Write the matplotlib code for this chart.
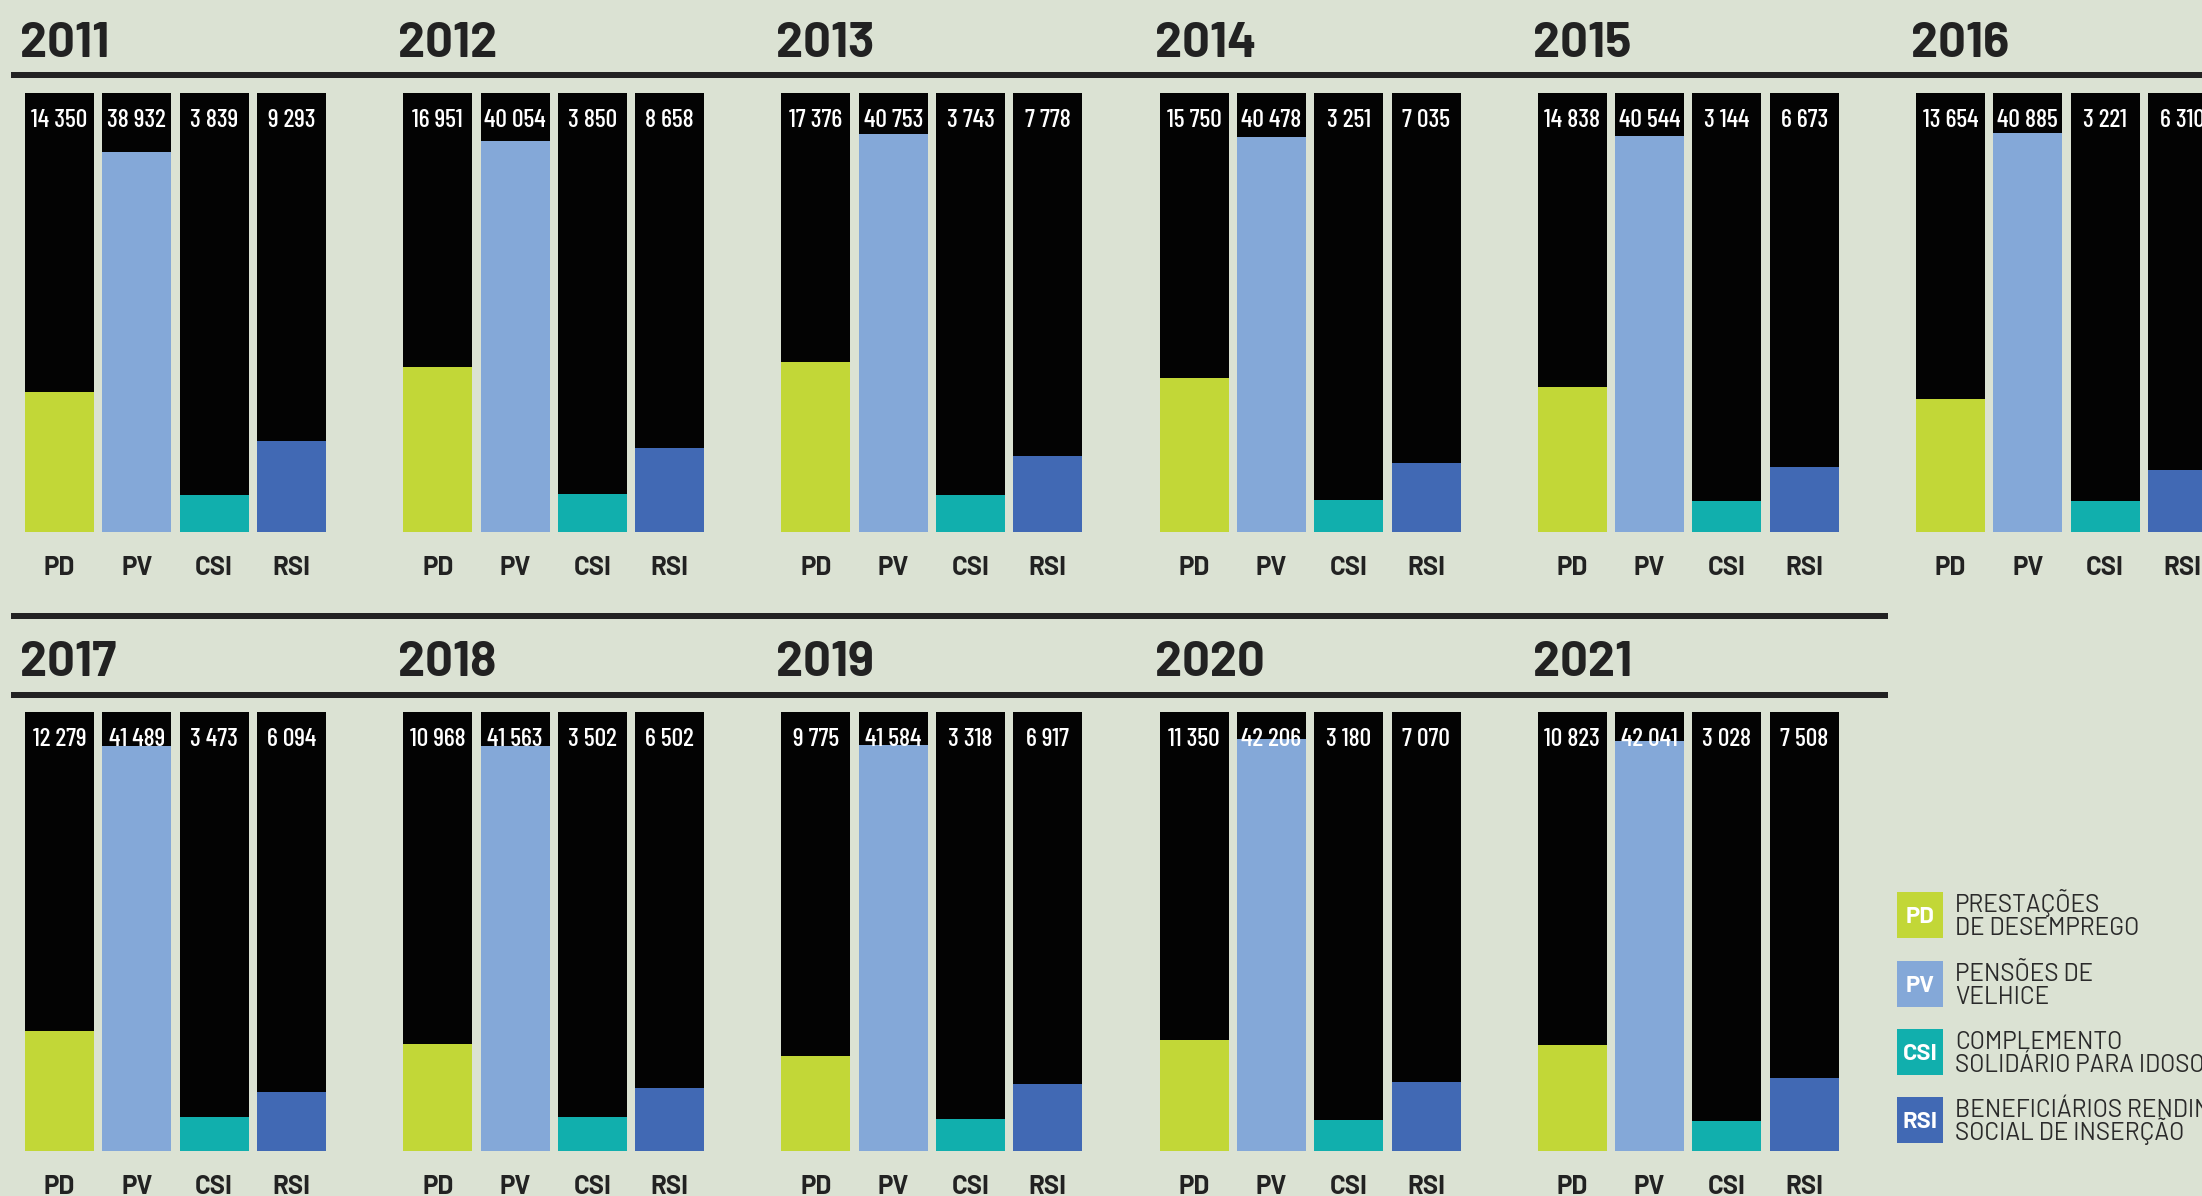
import matplotlib
matplotlib.use("Agg")
import matplotlib.pyplot as plt
from matplotlib.patches import Rectangle
from matplotlib.lines import Line2D
import matplotlib.transforms as mtransforms

# ---- data -------------------------------------------------------------
years = [2011, 2012, 2013, 2014, 2015, 2016, 2017, 2018, 2019, 2020, 2021]
categories = ["PD", "PV", "CSI", "RSI"]
pd_values = [14350, 16951, 17376, 15750, 14838, 13654, 12279, 10968, 9775, 11350, 10823]
pv_values = [38932, 40054, 40753, 40478, 40544, 40885, 41489, 41563, 41584, 42206, 42041]
csi_values = [3839, 3850, 3743, 3251, 3144, 3221, 3473, 3502, 3318, 3180, 3028]
rsi_values = [9293, 8658, 7778, 7035, 6673, 6310, 6094, 6502, 6917, 7070, 7508]
legend_labels = [
    ("PRESTAÇÕES", "DE DESEMPREGO"),
    ("PENSÕES DE", "VELHICE"),
    ("COMPLEMENTO", "SOLIDÁRIO PARA IDOSOS"),
    ("BENEFICIÁRIOS RENDIMENTO", "SOCIAL DE INSERÇÃO"),
]
scale_max = 45000

# ---- style ------------------------------------------------------------
BG = "#dbe2d3"
INK = "#222222"
BAR_BG = "#030303"
colors = ["#c2d737", "#84a8d8", "#11afad", "#4169b4"]

W, H = 2202, 1196
fig = plt.figure(figsize=(W / 100, H / 100), dpi=100, facecolor=BG)


def fx(px):
    return px / W


def fy(py):
    return 1 - py / H


# panel geometry (pixels from top-left)
col_step = 378.2
row_step = 619
bar_step = 77.3
bar_w = 69 / bar_step
ax_left0 = 59.5 - bar_step / 2
ax_top0 = 93
ax_h = 439

series = list(zip(pd_values, pv_values, csi_values, rsi_values))

for k, year in enumerate(years):
    r, c = divmod(k, 6)
    left = ax_left0 + c * col_step
    top = ax_top0 + r * row_step
    ax = fig.add_axes([fx(left), fy(top + ax_h), 4 * bar_step / W, ax_h / H])
    ax.set_xlim(-0.5, 3.5)
    ax.set_ylim(0, scale_max)
    ax.axis("off")
    xs = range(len(categories))
    vals = series[k]
    ax.bar(xs, [scale_max] * 4, width=bar_w, color=BAR_BG, linewidth=0)
    ax.bar(xs, vals, width=bar_w, color=colors, linewidth=0)
    tr = mtransforms.blended_transform_factory(ax.transData, ax.transAxes)
    for i, v in enumerate(vals):
        ax.text(i, (ax_h - 34) / ax_h, f"{v:,}".replace(",", " "), transform=tr,
                ha="center", va="baseline", color="white",
                fontfamily="Barlow Condensed", fontweight=500, fontsize=18.5)
        ax.text(i, -43 / ax_h, categories[i], transform=tr, ha="center", va="baseline",
                color=INK, fontfamily="Barlow", fontweight="bold",
                fontsize=18.5, clip_on=False)
    # year title
    fig.text(fx(20 + c * col_step), fy(57 + r * row_step), str(year), ha="left",
             va="baseline", color=INK, fontfamily="Barlow",
             fontweight="bold", fontsize=35)

# horizontal rules
rules = [(75, 11, W + 5), (616, 11, 1888), (694.5, 11, 1888)]
for y, x0, x1 in rules:
    fig.add_artist(Line2D([fx(x0), fx(x1)], [fy(y), fy(y)], transform=fig.transFigure,
                          color=INK, linewidth=6 * 0.72, solid_capstyle="butt"))

# legend
leg_x = 1897
leg_tops = [892, 961, 1029, 1097]
sq = 46
for i, top in enumerate(leg_tops):
    fig.add_artist(Rectangle((fx(leg_x), fy(top + sq)), sq / W, sq / H,
                             transform=fig.transFigure, facecolor=colors[i],
                             edgecolor="none"))
    fig.text(fx(leg_x + sq / 2), fy(top + sq / 2 + 8), categories[i], ha="center",
             va="baseline", color="white", fontfamily="Barlow",
             fontweight="bold", fontsize=17)
    l1, l2 = legend_labels[i]
    fig.text(fx(1955), fy(top + 20), l1, ha="left", va="baseline", color="#2a2a2a",
             fontfamily="Barlow", fontweight=400, fontsize=17.5)
    fig.text(fx(1955), fy(top + 43), l2, ha="left", va="baseline", color="#2a2a2a",
             fontfamily="Barlow", fontweight=400, fontsize=17.5)

fig.savefig("out.png", dpi=100, facecolor=BG)
